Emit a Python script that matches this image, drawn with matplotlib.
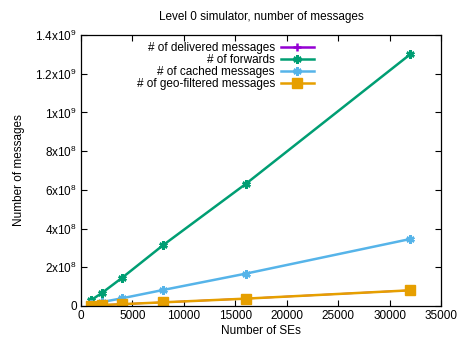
import matplotlib
matplotlib.use('Agg')
import matplotlib.pyplot as plt

plt.rcParams['font.family'] = ['Liberation Sans', 'DejaVu Sans']
plt.rcParams['font.size'] = 8.5
plt.rcParams['mathtext.fontset'] = 'custom'
plt.rcParams['mathtext.rm'] = 'Liberation Sans'

# number of SEs
n_ses = [1000, 2000, 4000, 8000, 16000, 32000]

# message counts per series
delivered = [2.4e6, 4.8e6, 9.5e6, 1.9e7, 3.8e7, 8.1e7]
forwards = [3.1e7, 6.6e7, 1.46e8, 3.15e8, 6.3e8, 1.30e9]
cached = [1.0e7, 2.0e7, 4.0e7, 8.3e7, 1.67e8, 3.46e8]
geo_filtered = [2.4e6, 4.8e6, 9.5e6, 1.9e7, 3.8e7, 8.1e7]

x_ticks = [0, 5000, 10000, 15000, 20000, 25000, 30000, 35000]
y_ticks = [0, 2e8, 4e8, 6e8, 8e8, 1e9, 1.2e9, 1.4e9]
y_labels = ['0', r'$\mathregular{2x10^{8}}$', r'$\mathregular{4x10^{8}}$',
            r'$\mathregular{6x10^{8}}$', r'$\mathregular{8x10^{8}}$',
            r'$\mathregular{1x10^{9}}$', r'$\mathregular{1.2x10^{9}}$',
            r'$\mathregular{1.4x10^{9}}$']

fig = plt.figure(figsize=(4.63, 3.45), dpi=100)
ax = fig.add_axes([81 / 463, 1 - 306 / 345, 360 / 463, 271 / 345])

# delivered sits under the geo-filtered line in the original, so keep it thin
line_d, = ax.plot(n_ses, delivered, color='#9400d3', lw=1.2, marker='+', ms=4,
                  mew=1.2, label='# of delivered messages')
ax.plot(n_ses, forwards, color='#009e73', lw=1.8, marker=(6, 2, 0), ms=6, mew=1.8,
        label='# of forwards')
ax.plot(n_ses, cached, color='#56b4e9', lw=1.8, marker=(6, 2, 0), ms=6, mew=1.8,
        label='# of cached messages')
ax.plot(n_ses, geo_filtered, color='#e69f00', lw=1.8, marker='s', ms=6.5,
        label='# of geo-filtered messages')

ax.set_xlim(0, 35000)
ax.set_ylim(0, 1.4e9)
ax.set_xticks(x_ticks)
ax.set_yticks(y_ticks)
ax.set_yticklabels(y_labels)
ax.tick_params(direction='in', top=True, right=True, length=4, width=0.8, pad=3)
for s in ax.spines.values():
    s.set_linewidth(0.9)

ax.set_title('Level 0 simulator, number of messages', fontsize=8.5, pad=11)
ax.set_xlabel('Number of SEs', labelpad=2)
ax.set_ylabel('Number of messages', labelpad=7)

leg = ax.legend(loc='upper left', bbox_to_anchor=(0.135, 1.0), frameon=False,
                markerfirst=False, handlelength=2.8, handletextpad=0.5,
                labelspacing=0.0, borderaxespad=0.2)
for t in leg.get_texts():
    t.set_ha('right')
leg._legend_box.align = 'right'
# legend handle for delivered drawn at full width like the others
h = leg.legend_handles[0]
h.set_linewidth(1.8)
h.set_markersize(6)
h.set_markeredgewidth(1.8)

fig.savefig('out.png', dpi=100)
